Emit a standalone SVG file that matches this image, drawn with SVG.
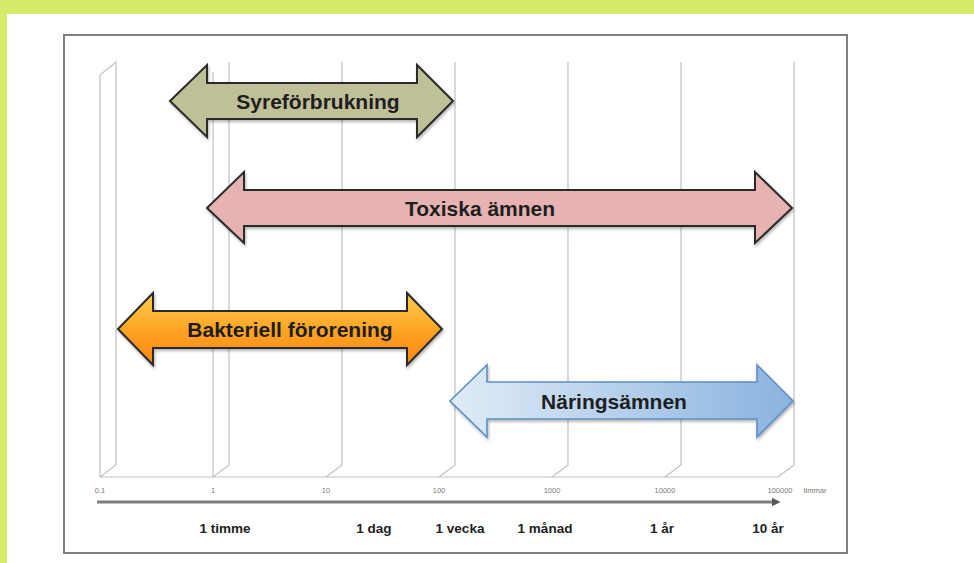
<svg xmlns="http://www.w3.org/2000/svg" width="974" height="563" viewBox="0 0 974 563">
<defs>
<linearGradient id="gOrange" x1="0" y1="0" x2="0" y2="1">
<stop offset="0" stop-color="#ffd04a"/>
<stop offset="0.5" stop-color="#ffa526"/>
<stop offset="1" stop-color="#ff8410"/>
</linearGradient>
<linearGradient id="gBlue" x1="0" y1="0" x2="1" y2="0">
<stop offset="0" stop-color="#e0ecf7"/>
<stop offset="1" stop-color="#8ab3df"/>
</linearGradient>
<filter id="sh" x="-10%" y="-20%" width="120%" height="150%">
<feDropShadow dx="1" dy="2" stdDeviation="1.5" flood-color="#000" flood-opacity="0.3"/>
</filter>
<marker id="axArrow" viewBox="0 0 10 10" refX="5" refY="5" markerWidth="3" markerHeight="3" orient="auto" markerUnits="strokeWidth">
<path d="M0,0 L10,5 L0,10 z" fill="#595959"/>
</marker>
<style>
.grid{stroke:#bcc4c0;stroke-width:1.2;fill:none}
.arrow{stroke:#2b2b2b;stroke-width:2;stroke-linejoin:miter}
.lbl{font-family:"Liberation Sans",Arial,sans-serif;font-weight:bold;font-size:21px;fill:#1e1e1e;text-anchor:middle}
.tick{font-family:"Liberation Sans",Arial,sans-serif;font-size:7.5px;fill:#7a7a7a;text-anchor:middle}
.time{font-family:"Liberation Sans",Arial,sans-serif;font-weight:bold;font-size:13.5px;fill:#222;text-anchor:middle}
</style>
</defs>
<rect x="0" y="0" width="974" height="563" fill="#d8ea6a"/>
<rect x="7" y="14" width="967" height="549" fill="#ffffff"/>
<rect x="64" y="35" width="783" height="518" fill="#ffffff" stroke="#808080" stroke-width="2"/>

<g id="grid">
<path class="grid" d="M100,477 V75 L116,62 V465 L100,477"/>
<path class="grid" d="M213,477 V72"/>
<path class="grid" d="M213,477 L229,465 V62"/>
<path class="grid" d="M326,477 L342,465 V62"/>
<path class="grid" d="M439,477 L455,465 V62"/>
<path class="grid" d="M552,477 L568,465 V62"/>
<path class="grid" d="M665,477 L681,465 V62"/>
<path class="grid" d="M778,477 L794,465 V62"/>
<path class="grid" d="M100,477 H778"/>
</g>

<g id="ticks">
<text class="tick" x="100" y="493">0.1</text>
<text class="tick" x="213" y="493">1</text>
<text class="tick" x="326" y="493">10</text>
<text class="tick" x="439" y="493">100</text>
<text class="tick" x="552" y="493">1000</text>
<text class="tick" x="665" y="493">10000</text>
<text class="tick" x="780" y="493">100000</text>
<text class="tick" x="815" y="493">timmar</text>
</g>

<g id="connectors">
<line x1="97" y1="502" x2="776" y2="502" stroke="#7f7f7f" stroke-width="3" marker-end="url(#axArrow)"/>
</g>

<g id="timelabels">
<text class="time" x="225" y="533">1 timme</text>
<text class="time" x="374" y="533">1 dag</text>
<text class="time" x="460" y="533">1 vecka</text>
<text class="time" x="545" y="533">1 månad</text>
<text class="time" x="662" y="533">1 år</text>
<text class="time" x="768" y="533">10 år</text>
</g>

<g id="syreforbrukning">
<polygon class="arrow" filter="url(#sh)" fill="#bfbf98" points="170,101 207,65 207,83 417,83 417,65 453,101 417,137 417,119 207,119 207,137"/>
<text class="lbl" x="318" y="109">Syreförbrukning</text>
</g>

<g id="toxiska">
<polygon class="arrow" filter="url(#sh)" fill="#e6b2b2" points="207,208 244,172 244,190 755,190 755,172 792,208 755,243 755,226 244,226 244,243"/>
<text class="lbl" x="480" y="216">Toxiska ämnen</text>
</g>

<g id="bakteriell">
<polygon class="arrow" filter="url(#sh)" fill="url(#gOrange)" points="118,329 153,293 153,311 407,311 407,293 442,329 407,365 407,348 153,348 153,365"/>
<text class="lbl" x="290" y="337">Bakteriell förorening</text>
</g>

<g id="naring">
<polygon filter="url(#sh)" fill="url(#gBlue)" stroke="#5f8fc6" stroke-width="1.6" points="450,401 487,365 487,382 757,382 757,365 793,401 757,437 757,419 487,419 487,437"/>
<text class="lbl" x="614" y="409">Näringsämnen</text>
</g>
</svg>
